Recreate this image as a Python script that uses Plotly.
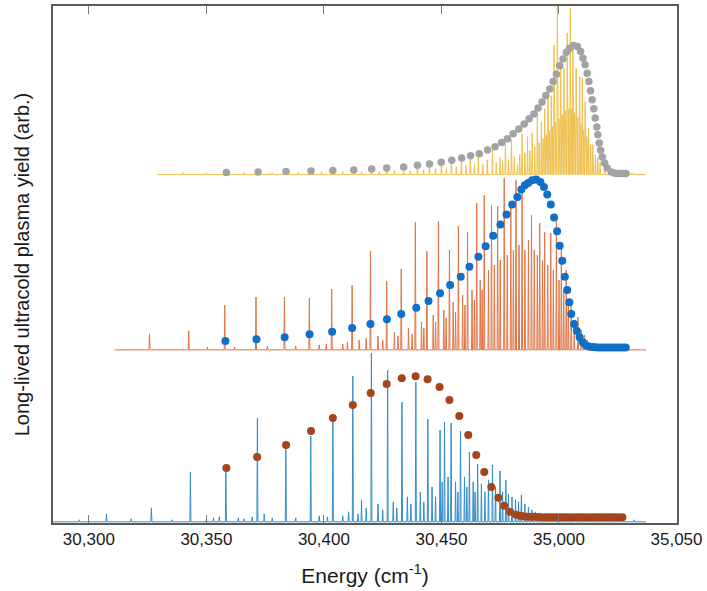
import plotly.graph_objects as go

# ---------------- axis ----------------
tick_vals = [30300, 30350, 30400, 30450, 30500, 30550]
tick_text = ["30,300", "30,350", "30,400", "30,450", "35,000", "35,050"]
x_range = [30284.75, 30550.2]
y_range = [0.0, 5.182]

# vertical offsets of the three stacked spectra (arb.)
offset_bottom = 0.012
offset_middle = 1.735
offset_top = 3.492

# ---------------- bottom spectrum (blue) ----------------
bottom_start, bottom_end = 30280.0, 30537.0
bottom_peak_e = [30307.5, 30326.6, 30343.2, 30355.5, 30358.3, 30363.6, 30371.7, 30374.6,
                 30383.8, 30394.4, 30403.8, 30412.3, 30416.0, 30420.2, 30427.1, 30433.2,
                 30439.1, 30444.2, 30449.4, 30451.3, 30454.1, 30458.1, 30461.9, 30465.4,
                 30471.7, 30474.9, 30477.4, 30484.0]
bottom_peak_h = [0.08, 0.14, 0.50, 0.05, 0.50, 0.04, 1.04, 0.08,
                 0.78, 0.86, 1.04, 1.46, 0.22, 1.69, 1.52, 1.20,
                 1.40, 1.03, 0.92, 1.00, 0.99, 0.91, 0.70, 0.58,
                 0.57, 0.51, 0.42, 0.27]
bottom_weak_e = [30296.0, 30318.0, 30335.5, 30350.0, 30353.0, 30366.0, 30369.5, 30378.0,
                 30388.0, 30398.0, 30401.5, 30408.0, 30410.5, 30414.5, 30418.0, 30423.0,
                 30425.0, 30429.5, 30431.0, 30435.5, 30437.0, 30441.0, 30442.5, 30446.0,
                 30447.5, 30450.3, 30452.8, 30456.0, 30457.0, 30459.8, 30460.8, 30463.5,
                 30464.3, 30467.0, 30468.5, 30470.0, 30473.0, 30476.0, 30478.5, 30480.0,
                 30481.5, 30482.8, 30485.5, 30487.0, 30488.5, 30490.0, 30492.0, 30494.0,
                 30496.0, 30498.0, 30500.0, 30503.0, 30507.0, 30512.0, 30518.0, 30525.0,
                 30532.0]
bottom_weak_h = [0.02, 0.03, 0.02, 0.03, 0.04, 0.03, 0.05, 0.04,
                 0.04, 0.06, 0.05, 0.06, 0.10, 0.08, 0.14, 0.18,
                 0.12, 0.20, 0.14, 0.25, 0.18, 0.30, 0.20, 0.35,
                 0.25, 0.40, 0.45, 0.40, 0.30, 0.45, 0.35, 0.40,
                 0.30, 0.38, 0.30, 0.42, 0.35, 0.30, 0.28, 0.25,
                 0.22, 0.20, 0.18, 0.15, 0.12, 0.10, 0.09, 0.08,
                 0.07, 0.06, 0.05, 0.04, 0.03, 0.03, 0.02, 0.02,
                 0.02]

# bottom yield points (brown)
bottom_dot_e = [30358.5, 30371.6, 30383.9, 30394.5, 30403.8, 30412.3, 30419.9, 30426.7,
                30433.1, 30439.0, 30444.1, 30449.2, 30453.4, 30457.6, 30461.4, 30464.8,
                30468.2, 30471.2, 30474.2, 30476.7, 30479.2, 30481.8, 30483.5, 30485.0,
                30486.5, 30488.0, 30489.5, 30491.0, 30492.5, 30494.0, 30495.5, 30497.0,
                30498.5, 30500.0, 30501.5, 30503.0, 30504.5, 30506.0, 30507.5, 30509.0,
                30510.5, 30512.0, 30513.5, 30515.0, 30516.5, 30518.0, 30519.5, 30521.0,
                30522.5, 30524.0, 30525.5, 30527.0]
bottom_dot_h = [0.54, 0.65, 0.77, 0.91, 1.04, 1.17, 1.29, 1.38,
                1.44, 1.46, 1.43, 1.35, 1.22, 1.06, 0.87, 0.67,
                0.50, 0.35, 0.24, 0.16, 0.10, 0.07, 0.06, 0.055,
                0.05, 0.05, 0.05, 0.048, 0.046, 0.045, 0.045, 0.045,
                0.045, 0.045, 0.045, 0.045, 0.045, 0.045, 0.045, 0.045,
                0.045, 0.045, 0.045, 0.045, 0.045, 0.045, 0.045, 0.045,
                0.045, 0.045, 0.045, 0.045]

# ---------------- middle spectrum (orange) ----------------
middle_start, middle_end = 30311.0, 30537.0
middle_peak_e = [30325.8, 30342.5, 30350.4, 30357.8, 30371.1, 30383.2, 30393.8, 30403.3,
                 30412.0, 30419.8, 30426.7, 30432.9, 30438.9, 30443.8, 30448.7, 30453.4,
                 30457.2, 30461.1, 30465.0, 30468.2, 30471.3, 30473.9, 30476.7, 30479.5,
                 30481.7, 30484.3, 30488.3, 30491.8, 30493.9, 30496.5, 30498.9, 30501.0,
                 30503.1, 30505.2, 30508.1, 30510.9]
middle_peak_h = [0.16, 0.19, 0.03, 0.45, 0.53, 0.53, 0.52, 0.61,
                 0.65, 0.99, 0.69, 0.81, 1.28, 0.99, 1.29, 1.00,
                 1.24, 1.18, 1.47, 1.55, 1.45, 1.44, 1.72, 1.46,
                 1.70, 1.67, 1.35, 1.27, 1.18, 1.17, 1.30, 1.08,
                 0.80, 0.47, 0.33, 0.15]
middle_weak_e = [30362.0, 30376.0, 30388.0, 30398.0, 30401.0, 30408.0, 30410.0, 30415.0,
                 30418.0, 30423.0, 30425.0, 30430.0, 30431.5, 30436.0, 30437.5, 30441.5,
                 30442.5, 30446.5, 30447.5, 30451.0, 30452.0, 30455.0, 30456.0, 30459.0,
                 30460.0, 30463.0, 30464.0, 30466.5, 30467.3, 30470.0, 30472.5, 30475.0,
                 30478.0, 30480.6, 30483.0, 30485.5, 30487.0, 30489.5, 30490.8, 30493.0,
                 30495.2, 30497.6, 30500.0, 30502.0, 30504.0, 30506.5, 30509.5, 30512.0,
                 30514.0, 30517.0, 30522.0, 30528.0]
middle_weak_h = [0.03, 0.04, 0.04, 0.05, 0.06, 0.06, 0.08, 0.10,
                 0.12, 0.14, 0.10, 0.18, 0.14, 0.22, 0.16, 0.28,
                 0.22, 0.35, 0.28, 0.40, 0.32, 0.48, 0.38, 0.55,
                 0.45, 0.60, 0.50, 0.70, 0.60, 0.80, 0.85, 0.90,
                 0.95, 1.00, 1.05, 1.00, 1.10, 1.00, 0.95, 0.90,
                 0.85, 0.80, 0.70, 0.60, 0.45, 0.30, 0.20, 0.10,
                 0.06, 0.04, 0.03, 0.02]

# middle yield points (blue)
middle_dot_e = [30358.1, 30371.3, 30383.3, 30393.9, 30403.5, 30412.0, 30419.8, 30426.8,
                30432.9, 30439.3, 30444.5, 30449.4, 30453.7, 30458.2, 30461.9, 30465.7,
                30468.8, 30472.0, 30475.1, 30477.7, 30480.1, 30482.3, 30484.0, 30485.5,
                30486.9, 30488.6, 30490.3, 30492.1, 30493.6, 30495.0, 30496.5, 30497.9,
                30499.2, 30500.3, 30501.4, 30502.5, 30503.5, 30504.4, 30505.2, 30506.4,
                30507.6, 30508.8, 30510.2, 30511.5, 30512.8, 30514.1, 30515.4, 30516.7,
                30518.0, 30519.3, 30520.6, 30521.9, 30523.2, 30524.5, 30525.8, 30527.1,
                30528.4]
middle_dot_h = [0.09, 0.107, 0.127, 0.157, 0.183, 0.22, 0.26, 0.307,
                0.36, 0.423, 0.49, 0.567, 0.65, 0.733, 0.833, 0.933,
                1.04, 1.143, 1.257, 1.357, 1.457, 1.533, 1.607, 1.65,
                1.673, 1.70, 1.707, 1.683, 1.633, 1.557, 1.457, 1.327,
                1.19, 1.043, 0.893, 0.733, 0.60, 0.477, 0.36, 0.26,
                0.19, 0.127, 0.073, 0.045, 0.035, 0.03, 0.027, 0.025,
                0.024, 0.023, 0.023, 0.023, 0.023, 0.023, 0.023, 0.023,
                0.023]

# ---------------- top spectrum (yellow) ----------------
top_start, top_end = 30329.2, 30537.0
top_peak_e = [30358.5, 30372.0, 30383.9, 30394.5, 30403.8, 30412.7, 30420.3, 30426.7,
              30433.9, 30439.8, 30444.9, 30450.0, 30454.2, 30458.5, 30462.3, 30465.7,
              30469.5, 30471.7, 30474.9, 30477.2, 30479.8, 30482.3, 30484.3, 30486.6,
              30488.6, 30490.8, 30492.5, 30493.9, 30495.3, 30496.7, 30497.9, 30499.3,
              30500.7, 30502.1, 30503.5, 30504.8, 30505.9, 30507.3, 30508.8, 30509.9,
              30511.1, 30512.6, 30514.4, 30516.5]
top_peak_h = [0.03, 0.03, 0.03, 0.03, 0.04, 0.04, 0.05, 0.06,
              0.08, 0.10, 0.08, 0.14, 0.12, 0.17, 0.22, 0.19,
              0.15, 0.25, 0.17, 0.32, 0.35, 0.10, 0.41, 0.38,
              0.42, 0.62, 0.53, 0.66, 0.86, 0.79, 1.30, 1.72,
              1.12, 1.07, 1.42, 1.67, 1.33, 1.07, 0.98, 0.97,
              0.73, 0.47, 0.30, 0.17]
top_weak_e = [30340.0, 30350.0, 30366.0, 30378.0, 30389.0, 30399.0, 30408.0, 30416.0,
              30423.5, 30430.0, 30436.8, 30442.4, 30447.5, 30452.1, 30456.3, 30460.4,
              30464.0, 30467.6, 30473.3, 30476.0, 30478.5, 30481.0, 30483.3, 30485.5,
              30487.6, 30489.7, 30491.6, 30493.2, 30494.6, 30496.0, 30497.3, 30498.6,
              30500.0, 30501.4, 30502.8, 30504.15, 30505.35, 30506.6, 30508.0, 30509.35,
              30510.5, 30511.85, 30513.5, 30515.5, 30517.5, 30519.5, 30522.0, 30526.0,
              30531.0]
top_weak_h = [0.02, 0.02, 0.02, 0.02, 0.02, 0.03, 0.03, 0.03,
              0.03, 0.04, 0.04, 0.05, 0.06, 0.06, 0.08, 0.09,
              0.10, 0.10, 0.12, 0.14, 0.15, 0.18, 0.20, 0.22,
              0.24, 0.28, 0.32, 0.36, 0.40, 0.44, 0.48, 0.52,
              0.56, 0.60, 0.64, 0.66, 0.66, 0.62, 0.58, 0.50,
              0.45, 0.38, 0.30, 0.20, 0.12, 0.06, 0.03, 0.02,
              0.02]

# top yield points (grey)
top_dot_e = [30358.5, 30372.0, 30383.9, 30394.5, 30403.8, 30412.7, 30420.3, 30426.7,
             30433.9, 30439.8, 30444.9, 30449.9, 30454.4, 30458.6, 30462.4, 30466.1,
             30469.6, 30472.8, 30475.6, 30478.1, 30480.5, 30482.9, 30485.2, 30487.3,
             30489.3, 30491.1, 30492.8, 30494.4, 30496.1, 30497.5, 30498.9, 30500.3,
             30501.7, 30503.1, 30504.5, 30506.2, 30507.8, 30509.2, 30510.2, 30511.1,
             30512.0, 30512.7, 30513.4, 30514.1, 30514.8, 30515.4, 30516.1, 30516.5,
             30517.1, 30517.7, 30518.4, 30519.4, 30520.5, 30522.2, 30523.5, 30524.5,
             30525.5, 30526.5, 30527.5, 30528.5]
top_dot_h = [0.02, 0.025, 0.03, 0.035, 0.04, 0.045, 0.055, 0.065,
             0.077, 0.093, 0.107, 0.123, 0.143, 0.167, 0.19, 0.21,
             0.247, 0.28, 0.323, 0.36, 0.41, 0.457, 0.507, 0.56,
             0.607, 0.667, 0.727, 0.793, 0.857, 0.933, 1.007, 1.09,
             1.16, 1.227, 1.267, 1.293, 1.283, 1.233, 1.167, 1.10,
             1.017, 0.933, 0.84, 0.75, 0.66, 0.567, 0.477, 0.40,
             0.317, 0.243, 0.177, 0.117, 0.067, 0.027, 0.015, 0.012,
             0.01, 0.01, 0.01, 0.01]

# ---------------- styles ----------------
line_blue = "#0072BD"
line_orange = "#D95319"
line_yellow = "#EDB120"
dot_brown = "#A4461C"
dot_blue = "#106FC6"
dot_grey = "#A3A3A3"
frame_color = "#5A5A5A"
text_font = "Liberation Sans, Arial, Helvetica, sans-serif"
line_half_width = 0.22  # half width of each drawn spectral line (cm^-1)


def spectrum_trace(peak_e, peak_h, weak_e, weak_h, e_start, e_end, offset, color):
    lines = sorted(zip(list(peak_e) + list(weak_e), list(peak_h) + list(weak_h)))
    xs, ys = [e_start], [offset]
    for e, h in lines:
        xs += [e - line_half_width, e, e + line_half_width]
        ys += [offset, offset + h, offset]
    xs.append(e_end)
    ys.append(offset)
    return go.Scatter(x=xs, y=ys, mode="lines", line=dict(color=color, width=1),
                      opacity=0.8, hoverinfo="skip", showlegend=False)


def dot_trace(dot_e, dot_h, offset, color, size):
    return go.Scatter(x=dot_e, y=[offset + h for h in dot_h], mode="markers",
                      marker=dict(color=color, size=size, line=dict(width=0)),
                      showlegend=False)


fig = go.Figure()
fig.add_trace(spectrum_trace(bottom_peak_e, bottom_peak_h, bottom_weak_e, bottom_weak_h,
                             bottom_start, bottom_end, offset_bottom, line_blue))
fig.add_trace(spectrum_trace(middle_peak_e, middle_peak_h, middle_weak_e, middle_weak_h,
                             middle_start, middle_end, offset_middle, line_orange))
fig.add_trace(spectrum_trace(top_peak_e, top_peak_h, top_weak_e, top_weak_h,
                             top_start, top_end, offset_top, line_yellow))
fig.add_trace(dot_trace(bottom_dot_e, bottom_dot_h, offset_bottom, dot_brown, 8))
fig.add_trace(dot_trace(middle_dot_e, middle_dot_h, offset_middle, dot_blue, 8))
fig.add_trace(dot_trace(top_dot_e, top_dot_h, offset_top, dot_grey, 7.5))

fig.update_layout(
    width=707, height=591,
    margin=dict(l=53, r=29, t=4, b=68),
    paper_bgcolor="white", plot_bgcolor="white",
    font=dict(family=text_font, color="#1a1a1a"),
    xaxis=dict(
        range=x_range, tickvals=tick_vals, ticktext=tick_text,
        ticks="inside", ticklen=8, tickwidth=1.2, tickcolor="#7a7a7a",
        showline=True, linecolor=frame_color, linewidth=1.5, mirror="ticks",
        showgrid=False, zeroline=False,
        tickfont=dict(size=17, family=text_font, color="#1a1a1a"),
        title=dict(text="Energy (cm<sup>-1</sup>)", standoff=20,
                   font=dict(size=21, family=text_font, color="#1a1a1a")),
    ),
    yaxis=dict(
        range=y_range, showticklabels=False, ticks="",
        showline=True, linecolor=frame_color, linewidth=1.5, mirror=True,
        showgrid=False, zeroline=False,
        title=dict(text="Long-lived ultracold plasma yield (arb.)", standoff=16,
                   font=dict(size=20, family=text_font, color="#1a1a1a")),
    ),
)

fig.write_html("out.html")
